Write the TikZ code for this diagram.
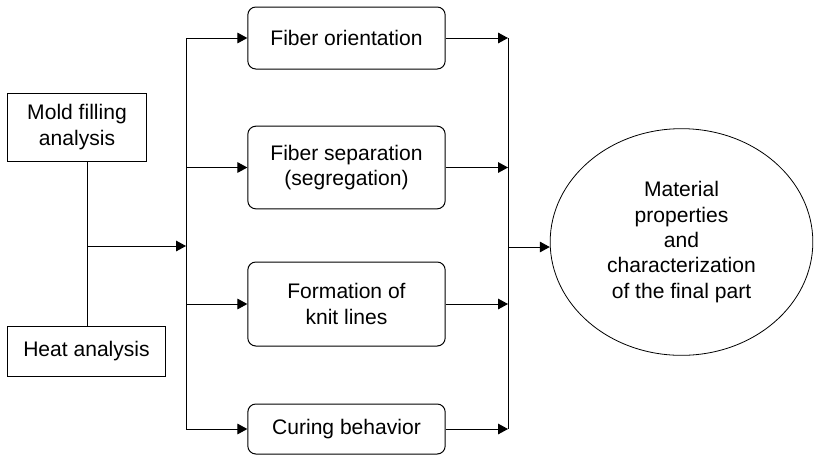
\documentclass[tikz,border=0pt]{standalone}
\usepackage{fontspec}
\setmainfont{Liberation Sans}
\usetikzlibrary{arrows.meta,shapes.geometric}

\begin{document}
\begin{tikzpicture}[
			x=0.75pt, y=-0.75pt,
			every node/.style={font=\fontsize{15.8}{19}\selectfont, align=center, inner sep=0pt},
			inbox/.style={draw=black, line width=0.75pt, rectangle},
			stepbox/.style={draw=black, line width=0.75pt, rectangle, rounded corners=6pt, minimum width=148pt},
			resultbox/.style={draw=black, line width=0.6pt, ellipse, minimum width=197pt, minimum height=170pt},
			line/.style={draw=black, line width=0.75pt},
			arr/.style={line, -{Triangle[length=7.5pt,width=8pt]}}
			]
			\useasboundingbox (0,0) rectangle (814,455);
			
			% Analyses on the left
			\node[inbox, minimum width=104pt, minimum height=51pt] (mold) at (77,127) {Mold filling\\analysis};
			\node[inbox, minimum width=119pt, minimum height=37.5pt] (heat) at (86.5,351) {Heat analysis};
			
			% Phenomena in the middle
			\node[stepbox, minimum height=46.5pt] (orient) at (346.5,38) {Fiber orientation};
			\node[stepbox, minimum height=62pt] (separ) at (346.5,167.5) {Fiber separation\\(segregation)};
			\node[stepbox, minimum height=63pt] (knit) at (346.5,304) {Formation of\\knit lines};
			\node[stepbox, minimum height=37.5pt] (curing) at (346.5,429) {Curing behavior};
			
			% Result
			\node[resultbox] (result) at (681.5,242) {Material\\properties\\and\\characterization\\of the final part};
			
			% Buses
			\coordinate (join) at (87,246);
			\coordinate (lbus) at (186,246);
			\coordinate (rbus) at (508,247);
			
			\draw[line] (join |- mold.south) -- (join |- heat.north);
			\draw[arr] (join) -- (lbus);
			\draw[line] (lbus |- orient) -- (lbus |- curing);
			\draw[line] (rbus |- orient) -- (rbus |- curing);
			
			\foreach \n in {orient, separ, knit, curing} {
				\draw[arr] (lbus |- \n) -- (\n.west);
				\draw[arr] (\n.east) -- (rbus |- \n);
			}
			
			\draw[arr] (rbus) -- (result.west |- rbus);
			
		\end{tikzpicture}
\end{document}
